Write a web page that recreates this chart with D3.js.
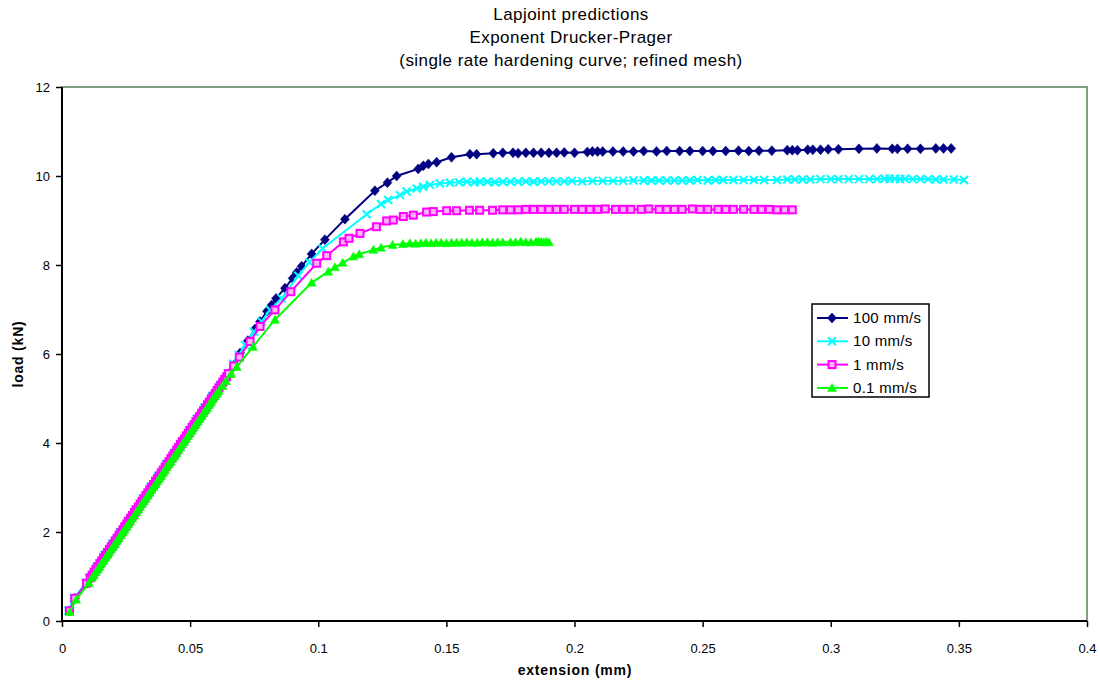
<!DOCTYPE html>
<html><head><meta charset="utf-8">
<script src="https://cdn.jsdelivr.net/npm/d3@7"></script>
<style>body{margin:0;background:#fff}svg{display:block}text{font-family:"Liberation Sans",Arial,sans-serif}</style>
</head><body><svg id="c" width="1100" height="681"></svg>
<script>
const titleLines=["Lapjoint predictions","Exponent Drucker-Prager","(single rate hardening curve; refined mesh)"];
const xTicks=[0,0.05,0.1,0.15,0.2,0.25,0.3,0.35,0.4];
const yTicks=[0,2,4,6,8,10,12];
const seriesNames=["100 mm/s","10 mm/s","1 mm/s","0.1 mm/s"];
const s100=[[0.0029,0.23],[0.005,0.51],[0.0098,0.85],[0.0112,0.97],[0.0142,1.22],[0.0172,1.48],[0.0202,1.73],[0.0232,1.99],[0.0262,2.24],[0.0292,2.50],[0.0322,2.75],[0.0352,3.01],[0.0382,3.26],[0.0412,3.52],[0.0442,3.77],[0.0472,4.03],[0.0502,4.28],[0.0532,4.54],[0.0562,4.79],[0.0592,5.05],[0.0622,5.30],[0.0652,5.56],[0.0672,5.76],[0.0695,6.02],[0.0725,6.30],[0.0753,6.56],[0.0773,6.73],[0.0800,6.96],[0.0818,7.10],[0.0835,7.25],[0.0870,7.48],[0.0900,7.70],[0.0916,7.83],[0.0935,7.97],[0.0974,8.25],[0.1026,8.57],[0.1104,9.03],[0.1221,9.67],[0.1270,9.85],[0.1306,10.00],[0.1390,10.16],[0.1410,10.23],[0.1430,10.27],[0.1462,10.31],[0.1520,10.42],[0.1592,10.49],[0.1618,10.49],[0.1683,10.51],[0.172,10.52],[0.176,10.52],[0.178,10.51],[0.181,10.52],[0.184,10.52],[0.187,10.52],[0.19,10.52],[0.193,10.52],[0.196,10.53],[0.2,10.52],[0.205,10.54],[0.207,10.55],[0.209,10.55],[0.211,10.55],[0.215,10.55],[0.219,10.55],[0.223,10.55],[0.227,10.56],[0.232,10.55],[0.236,10.56],[0.241,10.56],[0.245,10.56],[0.25,10.56],[0.254,10.56],[0.259,10.56],[0.264,10.57],[0.268,10.56],[0.272,10.57],[0.277,10.57],[0.283,10.58],[0.285,10.58],[0.287,10.58],[0.291,10.59],[0.293,10.59],[0.296,10.59],[0.299,10.6],[0.303,10.6],[0.311,10.61],[0.318,10.62],[0.324,10.61],[0.326,10.61],[0.33,10.61],[0.335,10.61],[0.341,10.62],[0.344,10.62],[0.347,10.62]];
const s10=[[0.0025,0.23],[0.0046,0.51],[0.0092,0.85],[0.0106,0.97],[0.0136,1.22],[0.0166,1.48],[0.0196,1.73],[0.0226,1.99],[0.0256,2.24],[0.0286,2.50],[0.0316,2.75],[0.0346,3.01],[0.0376,3.26],[0.0406,3.52],[0.0436,3.77],[0.0466,4.03],[0.0496,4.28],[0.0526,4.54],[0.0556,4.79],[0.0586,5.05],[0.0616,5.30],[0.0646,5.56],[0.0668,5.78],[0.0690,5.98],[0.0714,6.20],[0.0750,6.50],[0.0779,6.73],[0.0812,6.99],[0.0857,7.25],[0.0922,7.76],[0.0965,8.06],[0.1017,8.37],[0.1189,9.14],[0.1245,9.37],[0.1273,9.46],[0.1319,9.57],[0.1345,9.65],[0.1384,9.72],[0.1410,9.76],[0.1436,9.80],[0.1475,9.83],[0.1514,9.85],[0.1550,9.86],[0.158,9.87],[0.161,9.86],[0.163,9.87],[0.166,9.87],[0.169,9.86],[0.172,9.87],[0.175,9.87],[0.178,9.87],[0.181,9.88],[0.184,9.87],[0.187,9.88],[0.19,9.88],[0.193,9.88],[0.196,9.88],[0.199,9.89],[0.203,9.88],[0.207,9.89],[0.211,9.89],[0.215,9.89],[0.219,9.89],[0.223,9.9],[0.227,9.9],[0.23,9.9],[0.233,9.9],[0.236,9.9],[0.239,9.9],[0.242,9.9],[0.245,9.9],[0.248,9.91],[0.252,9.9],[0.255,9.91],[0.258,9.91],[0.262,9.91],[0.266,9.91],[0.27,9.91],[0.274,9.91],[0.279,9.91],[0.283,9.92],[0.286,9.92],[0.289,9.92],[0.292,9.92],[0.296,9.93],[0.3,9.93],[0.303,9.93],[0.307,9.93],[0.311,9.93],[0.315,9.93],[0.318,9.93],[0.321,9.94],[0.323,9.94],[0.325,9.94],[0.327,9.93],[0.329,9.94],[0.332,9.93],[0.335,9.93],[0.338,9.93],[0.341,9.92],[0.344,9.92],[0.348,9.92],[0.352,9.91]];
const s1=[[0.0029,0.23],[0.005,0.51],[0.0096,0.85],[0.011,0.97],[0.01175,1.03],[0.0125,1.10],[0.01325,1.16],[0.014,1.22],[0.01475,1.29],[0.0155,1.35],[0.01625,1.42],[0.017,1.48],[0.01775,1.54],[0.0185,1.61],[0.01925,1.67],[0.020,1.73],[0.02075,1.80],[0.0215,1.86],[0.02225,1.93],[0.023,1.99],[0.02375,2.05],[0.0245,2.12],[0.02525,2.18],[0.026,2.24],[0.02675,2.31],[0.0275,2.37],[0.02825,2.44],[0.029,2.50],[0.02975,2.56],[0.0305,2.63],[0.03125,2.69],[0.032,2.75],[0.03275,2.82],[0.0335,2.88],[0.03425,2.95],[0.035,3.01],[0.03575,3.07],[0.0365,3.14],[0.03725,3.20],[0.038,3.26],[0.03875,3.33],[0.0395,3.39],[0.04025,3.46],[0.041,3.52],[0.04175,3.58],[0.0425,3.65],[0.04325,3.71],[0.044,3.77],[0.04475,3.84],[0.0455,3.90],[0.04625,3.97],[0.047,4.03],[0.04775,4.09],[0.0485,4.16],[0.04925,4.22],[0.050,4.28],[0.05075,4.35],[0.0515,4.41],[0.05225,4.48],[0.053,4.54],[0.05375,4.60],[0.0545,4.67],[0.05525,4.73],[0.056,4.79],[0.05675,4.86],[0.0575,4.92],[0.05825,4.99],[0.059,5.05],[0.05975,5.11],[0.0605,5.18],[0.06125,5.24],[0.062,5.30],[0.06275,5.37],[0.0635,5.43],[0.06425,5.49],[0.065,5.56],[0.067,5.73],[0.0692,5.93],[0.0734,6.28],[0.0773,6.62],[0.0831,6.99],[0.0893,7.40],[0.0994,8.04],[0.1033,8.21],[0.1098,8.52],[0.1120,8.60],[0.1163,8.71],[0.1227,8.86],[0.1267,8.99],[0.1293,9.01],[0.1332,9.09],[0.1371,9.12],[0.1423,9.19],[0.1449,9.20],[0.1501,9.22],[0.1540,9.22],[0.1590,9.23],[0.1630,9.23],[0.168,9.23],[0.172,9.24],[0.175,9.24],[0.178,9.24],[0.181,9.25],[0.184,9.25],[0.187,9.25],[0.19,9.25],[0.193,9.25],[0.196,9.25],[0.2,9.25],[0.203,9.25],[0.206,9.25],[0.209,9.25],[0.212,9.26],[0.216,9.25],[0.219,9.25],[0.222,9.25],[0.226,9.25],[0.229,9.26],[0.233,9.25],[0.236,9.25],[0.239,9.25],[0.242,9.25],[0.246,9.26],[0.249,9.25],[0.252,9.25],[0.256,9.25],[0.259,9.25],[0.262,9.25],[0.266,9.25],[0.27,9.25],[0.273,9.25],[0.276,9.25],[0.279,9.24],[0.282,9.24],[0.285,9.24]];
const s01=[[0.003,0.20],[0.0055,0.48],[0.0105,0.85],[0.0117,0.97],[0.01245,1.03],[0.0132,1.10],[0.01395,1.16],[0.0147,1.22],[0.01545,1.29],[0.0162,1.35],[0.01695,1.42],[0.0177,1.48],[0.01845,1.54],[0.0192,1.61],[0.01995,1.67],[0.0207,1.73],[0.02145,1.80],[0.0222,1.86],[0.02295,1.93],[0.0237,1.99],[0.02445,2.05],[0.0252,2.12],[0.02595,2.18],[0.0267,2.24],[0.02745,2.31],[0.0282,2.37],[0.02895,2.44],[0.0297,2.50],[0.03045,2.56],[0.0312,2.63],[0.03195,2.69],[0.0327,2.75],[0.03345,2.82],[0.0342,2.88],[0.03495,2.95],[0.0357,3.01],[0.03645,3.07],[0.0372,3.14],[0.03795,3.20],[0.0387,3.26],[0.03945,3.33],[0.0402,3.39],[0.04095,3.46],[0.0417,3.52],[0.04245,3.58],[0.0432,3.65],[0.04395,3.71],[0.0447,3.77],[0.04545,3.84],[0.0462,3.90],[0.04695,3.97],[0.0477,4.03],[0.04845,4.09],[0.0492,4.16],[0.04995,4.22],[0.0507,4.28],[0.05145,4.35],[0.0522,4.41],[0.05295,4.48],[0.0537,4.54],[0.05445,4.60],[0.0552,4.67],[0.05595,4.73],[0.0567,4.79],[0.05745,4.86],[0.0582,4.92],[0.05895,4.99],[0.0597,5.05],[0.06045,5.11],[0.0612,5.17],[0.0626,5.28],[0.0640,5.39],[0.0660,5.55],[0.0682,5.71],[0.0745,6.16],[0.0831,6.77],[0.0974,7.60],[0.1039,7.85],[0.1065,7.95],[0.1095,8.05],[0.1137,8.19],[0.1160,8.24],[0.1215,8.34],[0.1245,8.39],[0.1290,8.45],[0.1330,8.47],[0.1358,8.49],[0.138,8.48],[0.14,8.49],[0.142,8.5],[0.144,8.49],[0.146,8.5],[0.148,8.5],[0.15,8.49],[0.152,8.5],[0.154,8.5],[0.156,8.5],[0.158,8.51],[0.16,8.5],[0.162,8.5],[0.164,8.51],[0.166,8.51],[0.168,8.5],[0.17,8.51],[0.172,8.51],[0.175,8.51],[0.177,8.51],[0.179,8.52],[0.181,8.51],[0.183,8.51],[0.185,8.52],[0.186,8.52],[0.187,8.52],[0.188,8.51],[0.189,8.52],[0.19,8.51]];

const colors=["#000080","#00ffff","#ff00ff","#00ff00"];
const allSeries=[s100,s10,s1,s01];
const shapes=["diamond","x","square","triangle"];

const svg=d3.select("#c");
const L=62,R=1087,T=87,B=621;
const x=d3.scaleLinear().domain([0,0.4]).range([L,R]);
const y=d3.scaleLinear().domain([0,12]).range([B,T]);

svg.append("rect").attr("x",L).attr("y",T).attr("width",R-L).attr("height",B-T)
  .attr("fill","none").attr("stroke","#7f9f7f").attr("stroke-width",2);

svg.append("g").selectAll("text").data(titleLines).join("text")
  .attr("x",571).attr("y",(d,i)=>20+i*23).attr("text-anchor","middle")
  .attr("font-size",17).attr("letter-spacing",0.45).text(d=>d);

const gx=svg.append("g").attr("transform",`translate(0,${B})`)
  .call(d3.axisBottom(x).tickValues(xTicks).tickSize(6).tickPadding(17).tickFormat(d=>String(+d.toFixed(2))));
const gy=svg.append("g").attr("transform",`translate(${L},0)`)
  .call(d3.axisLeft(y).tickValues(yTicks).tickSize(6).tickPadding(6).tickFormat(d=>String(d)));
[gx,gy].forEach(g=>{
  g.select(".domain").attr("stroke","#000").attr("stroke-width",2);
  g.selectAll(".tick line").attr("stroke","#000").attr("stroke-width",1.5);
  g.selectAll(".tick text").attr("font-size",13).attr("fill","#000").attr("font-family","'Liberation Sans',Arial,sans-serif");
});
gx.select(".domain").attr("d",`M${L},0H${R}`);
gy.select(".domain").attr("d",`M0,${T}V${B}`);

svg.append("text").attr("x",575).attr("y",675).attr("text-anchor","middle")
  .attr("font-size",14).attr("letter-spacing",0.8).attr("font-weight","bold").text("extension (mm)");
svg.append("text").attr("transform","translate(23,354) rotate(-90)").attr("text-anchor","middle")
  .attr("font-size",14).attr("letter-spacing",0.8).attr("font-weight","bold").text("load (kN)");

function drawMarker(g,shape,color){
  if(shape==="diamond"){
    g.append("path").attr("d","M0,-5L4.5,0L0,5L-4.5,0Z").attr("fill",color).attr("stroke",color).attr("stroke-width",0.5);
  } else if(shape==="x"){
    g.append("path").attr("d","M-4,-4L4,4M-4,4L4,-4").attr("stroke",color).attr("stroke-width",2).attr("fill","none");
  } else if(shape==="square"){
    g.append("rect").attr("x",-3.5).attr("y",-3.5).attr("width",7).attr("height",7)
      .attr("fill","#ffb3ff").attr("stroke",color).attr("stroke-width",2);
  } else {
    g.append("path").attr("d","M0,-4.5L4.5,3.5L-4.5,3.5Z").attr("fill",color).attr("stroke",color).attr("stroke-width",0.5);
  }
}

const line=d3.line().x(d=>x(d[0])).y(d=>y(d[1]));
const plot=svg.append("g");
allSeries.forEach((data,i)=>{
  const g=plot.append("g");
  g.append("path").datum(data).attr("d",line).attr("fill","none").attr("stroke",colors[i]).attr("stroke-width",2);
  g.selectAll("g.m").data(data).join("g").attr("class","m")
    .attr("transform",d=>`translate(${x(d[0])},${y(d[1])})`)
    .each(function(){drawMarker(d3.select(this),shapes[i],colors[i]);});
});

const lg=svg.append("g");
lg.append("rect").attr("x",812).attr("y",304).attr("width",117).attr("height",93)
  .attr("fill","#fff").attr("stroke","#000").attr("stroke-width",1.5);
seriesNames.forEach((n,i)=>{
  const yy=318+i*23.3;
  lg.append("line").attr("x1",817).attr("x2",848).attr("y1",yy).attr("y2",yy).attr("stroke",colors[i]).attr("stroke-width",2);
  const m=lg.append("g").attr("transform",`translate(832,${yy})`);
  drawMarker(m,shapes[i],colors[i]);
  lg.append("text").attr("x",853).attr("y",yy+5).attr("font-size",15).attr("letter-spacing",0.3).text(n);
});
</script></body></html>
